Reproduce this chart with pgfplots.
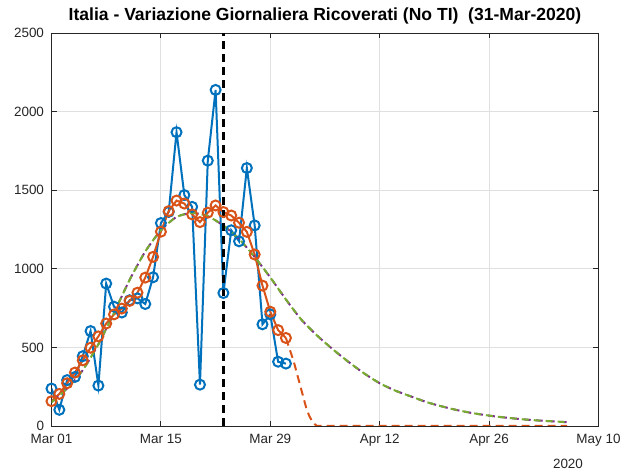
\documentclass[border=0pt]{standalone}
\usepackage{fontspec}
\setmainfont{Liberation Sans}
\usepackage{pgfplots}
\pgfplotsset{compat=1.18}
\definecolor{mblue}{HTML}{0072BD}
\definecolor{morange}{HTML}{D95319}
\definecolor{mpurple}{HTML}{7E2F8E}
\definecolor{mgreen}{HTML}{77AC30}
\definecolor{maxis}{HTML}{262626}
\definecolor{mgrid}{HTML}{E0E0E0}
\begin{document}
\begin{tikzpicture}
\useasboundingbox (0,0) rectangle (627bp,476bp);
\begin{axis}[
  name=ax,
  at={(51.5bp,50bp)}, anchor=south west,
  scale only axis, width=547bp, height=393bp,
  xmin=0, xmax=70, ymin=0, ymax=2500,
  xtick={0,14,28,42,56,70},
  xticklabels={Mar 01,Mar 15,Mar 29,Apr 12,Apr 26,May 10},
  ytick={0,500,1000,1500,2000,2500},
  grid=major, major grid style={mgrid, line width=0.8bp},
  axis line style={maxis, line width=0.8bp},
  tick style={maxis, line width=0.8bp},
  tick align=inside, major tick length=5bp,
  ticklabel style={font=\fontsize{13.5}{15}\selectfont, text=maxis},
  /pgf/number format/assume math mode=true,
  /pgf/number format/1000 sep={},
  yticklabel style={xshift=-4bp},
  xticklabel style={yshift=-5bp},
  title={\bfseries Italia - Variazione Giornaliera Ricoverati (No TI)\ \ (31-Mar-2020)},
  title style={font=\fontsize{17.6}{19}\selectfont, text=black, at={(0.5,1)}, anchor=base, yshift=7bp},
]
% daily variation (blue)
\addplot[mblue, line width=2bp, mark=o, mark size=5bp, mark options={line width=2bp, solid}] coordinates {
(0,238) (1,103) (2,292) (3,312) (4,444) (5,604) (6,257) (7,906) (8,759) (9,722)
(10,800) (11,812) (12,776) (13,946) (14,1291) (15,1362) (16,1869) (17,1469) (18,1394) (19,263)
(20,1688) (21,2138) (22,846) (23,1245) (24,1175) (25,1641) (26,1276) (27,647) (28,710) (29,409) (30,397)
};
% smoothed (orange)
\addplot[morange, line width=2bp, mark=o, mark size=5bp, mark options={line width=2bp, solid}] coordinates {
(0,158) (1,204) (2,272) (3,340) (4,418) (5,498) (6,570) (7,652) (8,710) (9,747)
(10,796) (11,848) (12,944) (13,1076) (14,1236) (15,1367) (16,1434) (17,1415) (18,1346) (19,1297)
(20,1357) (21,1403) (22,1361) (23,1339) (24,1293) (25,1235) (26,1091) (27,893) (28,727) (29,610) (30,560)
};
% orange forecast (dashed)
\addplot[morange, line width=2bp, dash pattern=on 8bp off 5bp] coordinates {
(30,560) (31,410) (32,225) (32.6,115) (33,62) (33.5,18) (34,0) (40,0) (50,0) (60,0) (66,0)
};
% model fits (purple under green)
\addplot[mpurple, line width=2bp, dash pattern=on 7bp off 5bp, dash phase=10bp, smooth, tension=0.4] coordinates {
(0,150) (2,240) (4,355) (6,520) (8,720) (10,930) (12,1110) (14,1245) (16,1330) (18,1355)
(20,1335) (22,1275) (24,1190) (26,1075) (28,945) (30,805) (32,675) (34,575) (36,488) (38,408)
(40,335) (42,272) (44,225) (46,188) (48,152) (50,124) (52,100) (54,81) (56,66) (58,54)
(60,44) (62,36) (64,30) (66,24)
};
\addplot[mgreen, line width=2bp, dash pattern=on 7bp off 5bp, smooth, tension=0.4] coordinates {
(0,150) (2,240) (4,355) (6,520) (8,720) (10,930) (12,1110) (14,1245) (16,1330) (18,1355)
(20,1335) (22,1275) (24,1190) (26,1075) (28,945) (30,805) (32,675) (34,575) (36,488) (38,408)
(40,335) (42,272) (44,225) (46,188) (48,152) (50,124) (52,100) (54,81) (56,66) (58,54)
(60,44) (62,36) (64,30) (66,24)
};
% current date marker
\addplot[black, line width=2.2bp, dash pattern=on 8bp off 5bp] coordinates {(22,0) (22,2500)};
\end{axis}
\node[font=\fontsize{13.5}{15}\selectfont, text=maxis, anchor=center] at ([xshift=-30.5bp,yshift=-38bp]ax.south east) {2020};
\end{tikzpicture}
\end{document}
